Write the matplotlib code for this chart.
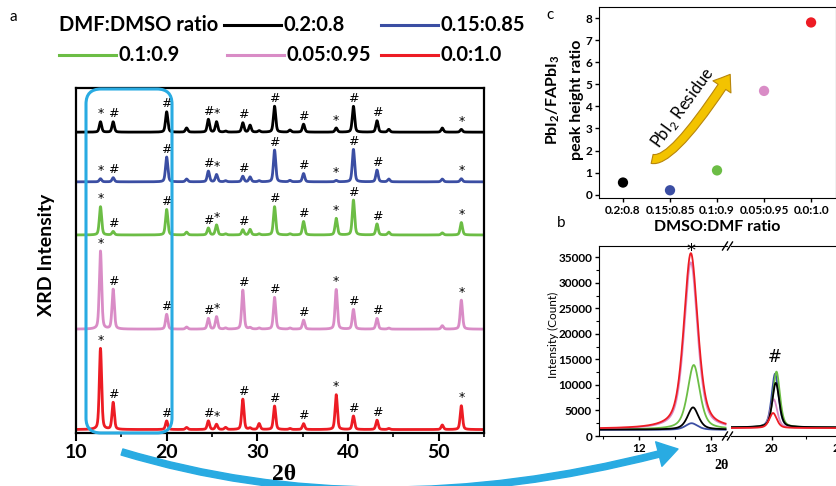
import numpy as np
import matplotlib
matplotlib.use('Agg')
import matplotlib.pyplot as plt
from matplotlib.lines import Line2D
from matplotlib.path import Path
from matplotlib.patches import FancyBboxPatch, FancyArrowPatch

plt.rcParams['font.family'] = ['Lato', 'DejaVu Sans']
plt.rcParams['mathtext.fontset'] = 'custom'
plt.rcParams['mathtext.rm'] = 'Lato'
plt.rcParams['mathtext.bf'] = 'Lato:bold'

# ---- data ----
ratios = ['0.2:0.8', '0.15:0.85', '0.1:0.9', '0.05:0.95', '0.0:1.0']
colors = ['#000000', '#3b4ea3', '#6cbd45', '#d98cc6', '#ed1c24']

# panel a: stacked XRD patterns, peak positions / tags / heights per series
offsets = [87.2, 72.8, 57.4, 30.1, 1.0]
peak_pos = [12.7, 14.1, 20.0, 22.2, 24.6, 25.5, 26.5, 28.4, 29.2, 30.2,
            31.9, 33.6, 35.1, 38.7, 40.6, 43.2, 44.5, 50.4, 52.5]
peak_tag = ['*', '#', '#', '', '#', '*', '', '#', '', '',
            '#', '', '#', '*', '#', '#', '', '', '*']
h_black = [3.0, 3.0, 5.9, 1.2, 3.7, 3.0, 0.3, 2.7, 2.0, 0.4,
           7.5, 0.6, 2.3, 1.2, 7.5, 3.3, 0.8, 1.2, 0.8]
h_blue = [0.9, 1.2, 7.2, 0.8, 3.1, 2.1, 0.3, 1.6, 1.4, 0.3,
          9.2, 0.4, 2.4, 0.4, 9.4, 3.4, 0.8, 0.8, 0.9]
h_green = [8.2, 1.0, 7.4, 0.8, 2.0, 2.9, 0.3, 1.5, 1.6, 0.3,
           8.2, 0.3, 3.9, 4.8, 10.1, 3.2, 0.8, 0.6, 3.6]
h_pink = [22.6, 11.5, 4.3, 0.6, 3.1, 3.6, 0.3, 11.3, 0.4, 0.3,
          9.2, 0.3, 2.6, 11.5, 5.7, 3.1, 0.3, 1.0, 8.4]
h_red = [23.5, 7.8, 2.5, 0.6, 2.5, 1.5, 0.6, 8.8, 0.4, 1.7,
         6.8, 0.3, 1.7, 10.1, 3.9, 2.7, 0.3, 1.3, 6.9]
a_heights = [h_black, h_blue, h_green, h_pink, h_red]

# panel b: zoom on the 12.7 (PbI2) and 20.0 (FAPbI3) peaks, counts
bl_center = [12.75, 12.73, 12.76, 12.72, 12.72]
bl_top = [5600, 2500, 13900, 34000, 35800]
bl_fwhm = [0.18, 0.20, 0.20, 0.22, 0.23]
bl_base = [1250, 1200, 1300, 1350, 1400]
br_center = [20.06, 20.05, 20.07, 20.03, 20.02]
br_top = [10400, 12200, 12600, 7200, 4500]
br_fwhm = [0.12, 0.12, 0.12, 0.12, 0.13]
br_base = [1700, 1650, 1650, 1600, 1550]

# panel c: PbI2/FAPbI3 peak height ratio
c_ratio = [0.55, 0.2, 1.1, 4.7, 7.8]

W, H = 837, 486


def box(l, t, r, b):
    return [l / W, (H - b) / H, (r - l) / W, (b - t) / H]


def fx(x, y):
    return x / W, 1 - y / H


def pv(x, centers, heights, fwhm, eta=0.4):
    y = np.zeros_like(x)
    for c, h in zip(centers, heights):
        d = (x - c) / (fwhm / 2)
        y += h * (eta / (1 + d ** 2) + (1 - eta) * np.exp(-np.log(2) * d ** 2))
    return y


fig = plt.figure(figsize=(8.37, 4.86), dpi=100)

# === panel a ===
ax = fig.add_axes(box(76, 88, 484, 433))
x = np.linspace(10, 55, 4000)
for col, off, hs in zip(colors, offsets, a_heights):
    ax.plot(x, off + pv(x, peak_pos, hs, 0.3), color=col, lw=2.0,
            solid_joinstyle='round')
    for p, hh, tag in zip(peak_pos, hs, peak_tag):
        if tag:
            ax.annotate(tag, (p, off + hh), xytext=(0, 1), textcoords='offset points',
                        ha='center', va='bottom', fontsize=9, family='DejaVu Sans')
ax.set_xlim(10, 55)
ax.set_ylim(0, 100)
ax.set_yticks([])
ax.set_xticks([10, 20, 30, 40, 50])
ax.set_xticks([15, 25, 35, 45, 55], minor=True)
ax.tick_params(axis='x', which='major', direction='out', length=6, width=1.5,
               labelsize=14, pad=2)
ax.tick_params(axis='x', which='minor', direction='out', length=3, width=1.2)
for lab in ax.get_xticklabels():
    lab.set_fontweight('bold')
for s in ax.spines.values():
    s.set_linewidth(1.6)
ax.text(40.3, 0.235, '# FAPbI$_\\mathbf{3}$ peaks', transform=ax.get_yaxis_transform(),
        fontsize=13, fontweight='bold', va='center')
ax.text(40.3, 0.145, '*PbI$_\\mathbf{2}$ Peaks', transform=ax.get_yaxis_transform(),
        fontsize=13, fontweight='bold', va='center')
fig.text(*fx(47, 255), 'XRD Intensity', rotation=90, ha='center', va='center',
         fontsize=14, fontweight='bold')
fig.text(*fx(284, 474), '2\u03b8', ha='center', va='center', fontsize=17,
         fontweight='bold', family='Liberation Serif', zorder=5)

# highlighted region around the two zoomed peaks
fig.add_artist(FancyBboxPatch((0.86, 0.53), 0.86, 3.44,
                              boxstyle='round,pad=0,rounding_size=0.15',
                              transform=fig.dpi_scale_trans, fill=False,
                              edgecolor='#29abe2', lw=2.2))

# legend drawn by hand
fig.text(*fx(59, 25), 'DMF:DMSO ratio', fontsize=14.5, fontweight='bold', va='center')
leg_rows = [25, 25, 55, 55, 55]
leg_x = [224, 381, 59, 227, 381]
for col, lab, lx, ly in zip(colors, ratios, leg_x, leg_rows):
    x0, y0 = fx(lx, ly)
    x1, _ = fx(lx + 57, ly)
    fig.add_artist(Line2D([x0, x1], [y0, y0], color=col, lw=2.2,
                          transform=fig.transFigure))
    fig.text(*fx(lx + 60, ly), lab, fontsize=14.5, fontweight='bold', va='center')

fig.text(*fx(13, 17), 'a', fontsize=11, ha='center', va='center')
fig.text(*fx(550, 15), 'c', fontsize=11, ha='center', va='center')
fig.text(*fx(561, 223), 'b', fontsize=11, ha='center', va='center')

# === panel c ===
axc = fig.add_axes(box(599, 7, 836, 198))
xc = np.arange(len(ratios))
axc.scatter(xc, c_ratio, c=colors, s=55, zorder=3, edgecolors='none')
axc.set_xlim(-0.51, 4.53)
axc.set_ylim(-0.15, 8.5)
axc.set_xticks(xc)
axc.set_xticklabels(ratios)
axc.set_yticks(range(9))
axc.tick_params(direction='out', length=3, width=1, labelsize=8.5, pad=2)
for lab in axc.get_xticklabels() + axc.get_yticklabels():
    lab.set_fontweight('bold')
axc.set_xlabel('DMSO:DMF ratio', fontsize=11.5, fontweight='bold', labelpad=3)
fig.text(*fx(553, 100), 'PbI$_\\mathbf{2}$/FAPbI$_\\mathbf{3}$', rotation=90,
         ha='center', va='center', fontsize=11.5, fontweight='bold')
fig.text(*fx(577, 100), 'peak height ratio', rotation=90, ha='center', va='center',
         fontsize=11.5, fontweight='bold')
# J-shaped "residue" arrow (one quadratic curve)
j_path = Path([(0.62, 1.62), (1.05, 1.42), (2.28, 5.45)],
              [Path.MOVETO, Path.CURVE3, Path.CURVE3])
axc.add_patch(FancyArrowPatch(path=j_path,
                              arrowstyle='simple,head_length=0.9,head_width=1.3,tail_width=0.55',
                              mutation_scale=12, facecolor='#f3c300',
                              edgecolor='#b8860b', lw=0.8, zorder=2))
axc.text(1.28, 3.95, 'PbI$_2$ Residue', rotation=54, ha='center', va='center',
         fontsize=12)

# === panel b (broken x axis) ===
axl = fig.add_axes(box(599, 246, 727, 436))
axr = fig.add_axes(box(731, 246, 845, 436), sharey=axl)
xl = np.linspace(11.45, 13.2, 800)
xr = np.linspace(19.4, 21.1, 800)
order = [1, 2, 3, 0, 4]
for i in order:
    yl = bl_base[i] + pv(xl, [bl_center[i]], [bl_top[i] - bl_base[i]], bl_fwhm[i], 0.55)
    yr = br_base[i] + pv(xr, [br_center[i]], [br_top[i] - br_base[i]], br_fwhm[i], 0.45)
    axl.plot(xl, yl, color=colors[i], lw=1.3)
    axr.plot(xr, yr, color=colors[i], lw=1.3)
axl.set_xlim(11.45, 13.22)
axr.set_xlim(19.4, 21.08)
axl.set_ylim(0, 37200)
axl.set_xticks([12, 13])
axl.set_xticks([11.5, 12.5], minor=True)
axr.set_xticks([20, 21])
axr.set_xticks([20.5], minor=True)
axl.set_yticks(range(0, 35001, 5000))
axl.set_yticks(range(2500, 37500, 5000), minor=True)
axl.spines['right'].set_visible(False)
axr.spines['left'].set_visible(False)
axr.spines['right'].set_visible(False)
axr.tick_params(axis='y', which='both', left=False, labelleft=False)
for a in (axl, axr):
    a.tick_params(which='major', direction='out', length=3, width=1, labelsize=8.5, pad=2)
    a.tick_params(which='minor', direction='out', length=2, width=0.8)
    for lab in a.get_xticklabels() + a.get_yticklabels():
        lab.set_fontweight('bold')
axl.text(12.72, 36300, '*', ha='center', va='center', fontsize=13, family='DejaVu Sans')
axr.text(20.05, 15500, '#', ha='center', va='center', fontsize=12, family='DejaVu Sans')
fig.text(*fx(553, 335), 'Intensity (Count)', rotation=90, ha='center', va='center',
         fontsize=8.5)
fig.text(*fx(722, 465), '2\u03b8', ha='center', va='center', fontsize=10,
         fontweight='bold', family='Liberation Serif')
for yb in (246, 436):
    for xb in (725, 730):
        x0, y0 = fx(xb - 2.5, yb + 4)
        x1, y1 = fx(xb + 2.5, yb - 4)
        fig.add_artist(Line2D([x0, x1], [y0, y1], color='black', lw=1,
                              transform=fig.transFigure))

# curved arrow from the box in a to panel b (quadratic curve, inches)
zoom_path = Path([(1.22, 0.34), (3.8, -0.44), (6.78, 0.37)],
                 [Path.MOVETO, Path.CURVE3, Path.CURVE3])
fig.add_artist(FancyArrowPatch(path=zoom_path,
                               arrowstyle='simple,head_length=1.1,head_width=1.4,tail_width=0.35',
                               mutation_scale=13, color='#29abe2',
                               transform=fig.dpi_scale_trans, zorder=1))

fig.savefig('out.png', dpi=100)
